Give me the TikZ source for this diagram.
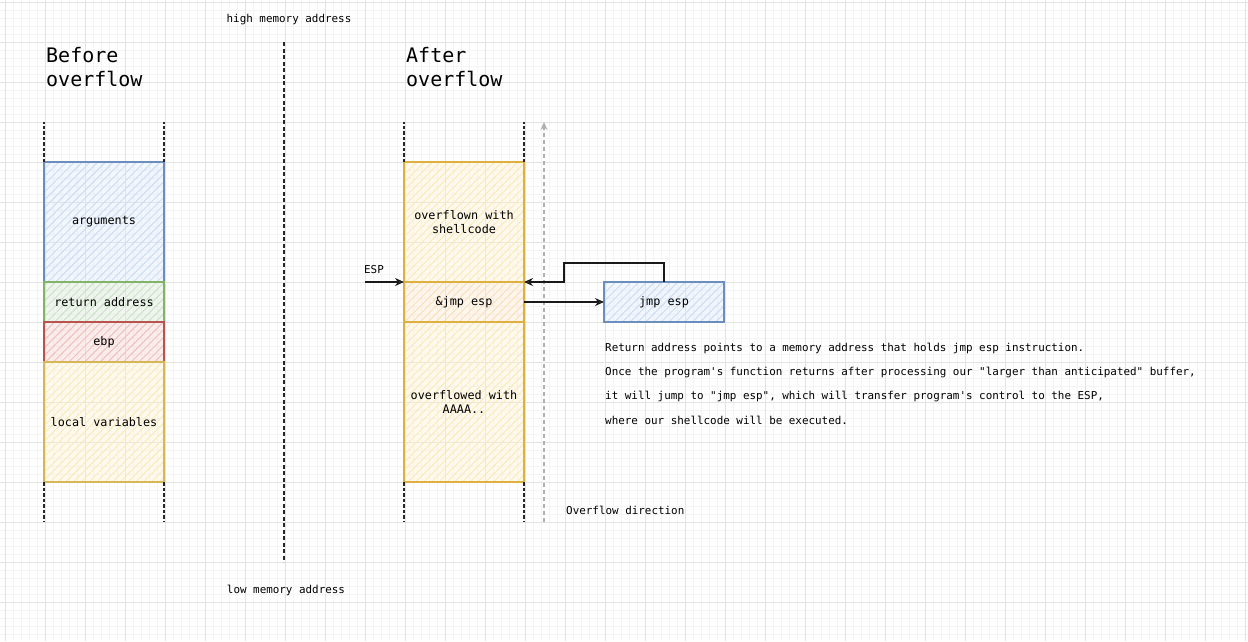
\documentclass[tikz,border=0pt]{standalone}
\usepackage{fontspec}
\setmonofont{DejaVu Sans Mono}
\usetikzlibrary{arrows.meta,patterns.meta}
\definecolor{bluestroke}{HTML}{6C8EBF}
\definecolor{bluefill}{HTML}{DAE8FC}
\definecolor{greenstroke}{HTML}{82B366}
\definecolor{greenfill}{HTML}{D5E8D4}
\definecolor{redstroke}{HTML}{B85450}
\definecolor{redfill}{HTML}{F8CECC}
\definecolor{yellowstroke}{HTML}{D6B656}
\definecolor{yellowfill}{HTML}{FFF2CC}
\definecolor{goldstroke}{HTML}{DDB040}
\definecolor{orangefill}{HTML}{FFE6CC}
\definecolor{gridminor}{HTML}{F4F4F4}
\definecolor{gridmajor}{HTML}{E3E3E3}
\definecolor{arrowgrey}{HTML}{B0B0B0}
\tikzset{
  memcell/.style={draw, minimum width=120pt, inner sep=0pt, outer sep=0pt,
    line width=1.4pt, align=center, font=\ttfamily\fontsize{11.8}{14.5}\selectfont},
  hatch/.style n args={2}{draw=#1, preaction={fill=#2, fill opacity=0.35},
    pattern={Lines[angle=45,distance=5.5pt,line width=1pt]}, pattern color=#2!88!#1},
  stackwall/.style={draw=black!85, line width=1.4pt, dash pattern=on 3.5pt off 2pt},
  midline/.style={draw=black!85, line width=1.3pt, dash pattern=on 4pt off 2.5pt},
  arr/.style={draw=black!90, line width=1.3pt, -{Stealth[open,length=9pt,width=8pt]}},
  ovarr/.style={draw=arrowgrey, line width=1.3pt, dash pattern=on 4pt off 3pt,
    -{Stealth[length=8pt,width=7pt]}},
  smalltext/.style={font=\ttfamily\fontsize{10.9}{13}\selectfont, inner sep=0pt},
  titletext/.style={font=\ttfamily\fontsize{20}{24}\selectfont, align=left, inner sep=0pt}
}
\begin{document}
\begin{tikzpicture}[x=1pt,y=-1pt]
\useasboundingbox[fill=white] (0,0) rectangle (1248,641);
% grid
\foreach \gx in {0,...,156} { \draw[gridminor, line width=0.6pt] ({5+8*\gx-8},0) -- ({5+8*\gx-8},641); }
\foreach \gy in {0,...,81} { \draw[gridminor, line width=0.6pt] (0,{2+8*\gy}) -- (1248,{2+8*\gy}); }
\foreach \gx in {0,...,31} { \draw[gridmajor, line width=0.8pt] ({5+40*\gx},0) -- ({5+40*\gx},641); }
\foreach \gy in {0,...,16} { \draw[gridmajor, line width=0.8pt] (0,{2+40*\gy}) -- (1248,{2+40*\gy}); }

% titles
\node[titletext, anchor=west] (before) at (46,67) {Before\\overflow};
\node[titletext, anchor=west] (after) at (406,67) {After\\overflow};

% middle divider
\coordinate (hi) at (284,42);
\coordinate (lo) at (284,562);
\draw[midline] (hi) -- (lo);
\node[smalltext] (hightxt) at (289,20) {high memory address};
\node[smalltext] (lowtxt) at (286,590) {low memory address};

% left stack
\node[memcell, hatch={bluestroke}{bluefill}, minimum height=120pt] (args) at (104,222) {arguments};
\node[memcell, hatch={greenstroke}{greenfill}, minimum height=40pt] (ret) at (104,302) {return address};
\node[memcell, hatch={redstroke}{redfill}, minimum height=40pt] (ebp) at (104,342) {ebp};
\node[memcell, hatch={yellowstroke}{yellowfill}, minimum height=120pt] (locals) at (104,422) {local variables};
\draw[stackwall] (args.north west) -- ++(0,-40);
\draw[stackwall] (args.north east) -- ++(0,-40);
\draw[stackwall] (locals.south west) -- ++(0,40);
\draw[stackwall] (locals.south east) -- ++(0,40);

% right stack
\node[memcell, hatch={goldstroke}{yellowfill}, minimum height=120pt] (shell) at (464,222) {overflown with\\shellcode};
\node[memcell, hatch={goldstroke}{orangefill}, minimum height=40pt] (jmpaddr) at (464,302) {\&jmp esp};
\node[memcell, hatch={goldstroke}{yellowfill}, minimum height=160pt] (aaaa) at (464,402) {overflowed with\\AAAA..};
\draw[stackwall] (shell.north west) -- ++(0,-40);
\draw[stackwall] (shell.north east) -- ++(0,-40);
\draw[stackwall] (aaaa.south west) -- ++(0,40);
\draw[stackwall] (aaaa.south east) -- ++(0,40);

% overflow direction
\coordinate (ovbottom) at (544,522);
\coordinate (ovtop) at (544,122);
\draw[ovarr] (ovbottom) -- (ovtop);
\node[smalltext, anchor=west] (ovtxt) at (566,510) {Overflow direction};

% jmp esp gadget
\node[memcell, hatch={bluestroke}{bluefill}, minimum height=40pt] (jmpesp) at (664,302) {jmp esp};

% ESP pointer
\node[smalltext] (esptxt) at (374,270) {ESP};
\coordinate (espstart) at (365,282);
\draw[arr] (espstart) -- (jmpaddr.north west);

% arrows
\draw[arr] (jmpaddr.east) -- (jmpesp.west);
\coordinate (loopcorner) at (564,263);
\draw[arr] (jmpesp.north) |- (loopcorner) -- (loopcorner |- jmpaddr.north east) -- (jmpaddr.north east);

% explanation
\node[smalltext, anchor=west] (l1) at (605,348) {Return address points to a memory address that holds jmp esp instruction.};
\node[smalltext, anchor=west] (l2) at (605,372) {Once the program's function returns after processing our "larger than anticipated" buffer,};
\node[smalltext, anchor=west] (l3) at (605,396) {it will jump to "jmp esp", which will transfer program's control to the ESP,};
\node[smalltext, anchor=west] (l4) at (605,420) {where our shellcode will be executed.};
\end{tikzpicture}
\end{document}
